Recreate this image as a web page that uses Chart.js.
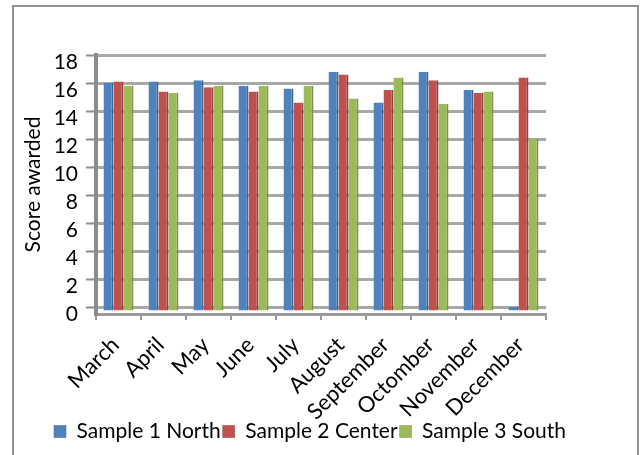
<!DOCTYPE html>
<html>
<head>
<meta charset="utf-8">
<script src="https://cdn.jsdelivr.net/npm/chart.js@4.4.1/dist/chart.umd.min.js"></script>
<style>
  html, body { margin: 0; padding: 0; background: #ffffff; overflow: hidden; }
  #wrap { position: relative; width: 643px; height: 455px; }
  #frame { position: absolute; left: 12px; top: 5px; width: 627px; height: 480px; border: 2px solid #909090; box-sizing: border-box; pointer-events: none; }
  canvas { position: absolute; left: 0; top: 0; }
</style>
</head>
<body>
<div id="wrap">
  <canvas id="chart" width="643" height="455"></canvas>
  <div id="frame"></div>
</div>
<script>
// Monthly scores for the three sampling sites
const months = ['March', 'April', 'May', 'June', 'July', 'August', 'September', 'Octomber', 'November', 'December'];
const northScores  = [16.0, 16.1, 16.2, 15.8, 15.6, 16.8, 14.6, 16.8, 15.5, 0];
const centerScores = [16.1, 15.4, 15.7, 15.4, 14.6, 16.6, 15.5, 16.2, 15.3, 16.4];
const southScores  = [15.8, 15.3, 15.8, 15.8, 15.8, 14.9, 16.4, 14.5, 15.4, 12.0];
const yTickValues  = [0, 2, 4, 6, 8, 10, 12, 14, 16, 18];
const seriesNames  = ['Sample 1 North', 'Sample 2 Center', 'Sample 3 South'];

const FONT = 'Lato, "Open Sans", sans-serif';

// keep the legend strip at a fixed height
const legendHeight = {
  id: 'legendHeight',
  beforeLayout(chart) {
    const lg = chart.legend;
    if (lg && !lg._fixedFit) {
      const fit = lg.fit;
      lg.fit = function () { fit.call(this); this.height = 36; };
      lg._fixedFit = true;
    }
  }
};

function series(label, data, fill, edge) {
  return {
    label,
    data,
    backgroundColor: fill,
    borderColor: edge,
    borderWidth: { top: 0, right: 2, bottom: 0, left: 0 },
    borderSkipped: false,
    base: -0.25,
    categoryPercentage: 0.667,
    barPercentage: 1.0
  };
}

new Chart(document.getElementById('chart'), {
  type: 'bar',
  data: {
    labels: months,
    datasets: [
      series(seriesNames[0], northScores,  '#4F81BD', '#3b6596'),
      series(seriesNames[1], centerScores, '#C0504D', '#963d3a'),
      series(seriesNames[2], southScores,  '#9BBB59', '#789343')
    ]
  },
  options: {
    responsive: false,
    animation: false,
    events: [],
    layout: { padding: { top: 55, left: 0, right: 23, bottom: 0 } },
    scales: {
      x: {
        position: 'bottom',
        grid: { display: true, drawOnChartArea: false, drawTicks: true, tickLength: 6, color: '#9a9a9a', lineWidth: 2, offset: true },
        border: { display: true, color: '#9a9a9a', width: 3 },
        ticks: {
          color: '#000000',
          font: { family: FONT, size: 22 },
          minRotation: 45,
          maxRotation: 45,
          autoSkip: false,
          padding: 12,
          labelOffset: -3
        },
        afterFit(scale) { scale.height = 105; }
      },
      y: {
        position: 'left',
        min: -0.5,
        max: 18,
        afterBuildTicks(scale) { scale.ticks = yTickValues.map(v => ({ value: v })); },
        grid: { color: '#a8a8a8', lineWidth: 3, drawTicks: true, tickLength: 10, tickColor: '#8c8c8c', tickWidth: 2 },
        border: { display: true, color: '#8c8c8c', width: 4 },
        ticks: {
          color: '#000000',
          font: { family: FONT, size: 21 },
          padding: 8,
          labelOffset: 7
        },
        title: {
          display: true,
          text: 'Score awarded',
          color: '#000000',
          font: { family: FONT, size: 21 },
          padding: { top: 21, bottom: 0 }
        },
        afterFit(scale) { scale.width = 96; }
      },
      spacer: {
        position: 'right',
        display: true,
        grid: { display: false },
        border: { display: false },
        ticks: { display: false },
        afterFit(scale) { scale.width = 74; }
      }
    },
    plugins: {
      legend: {
        position: 'bottom',
        align: 'center',
        labels: {
          color: '#000000',
          font: { family: FONT, size: 21 },
          boxWidth: 12,
          boxHeight: 12,
          padding: 2
        }
      },
      tooltip: { enabled: false }
    }
  },
  plugins: [legendHeight]
});
</script>
</body>
</html>
